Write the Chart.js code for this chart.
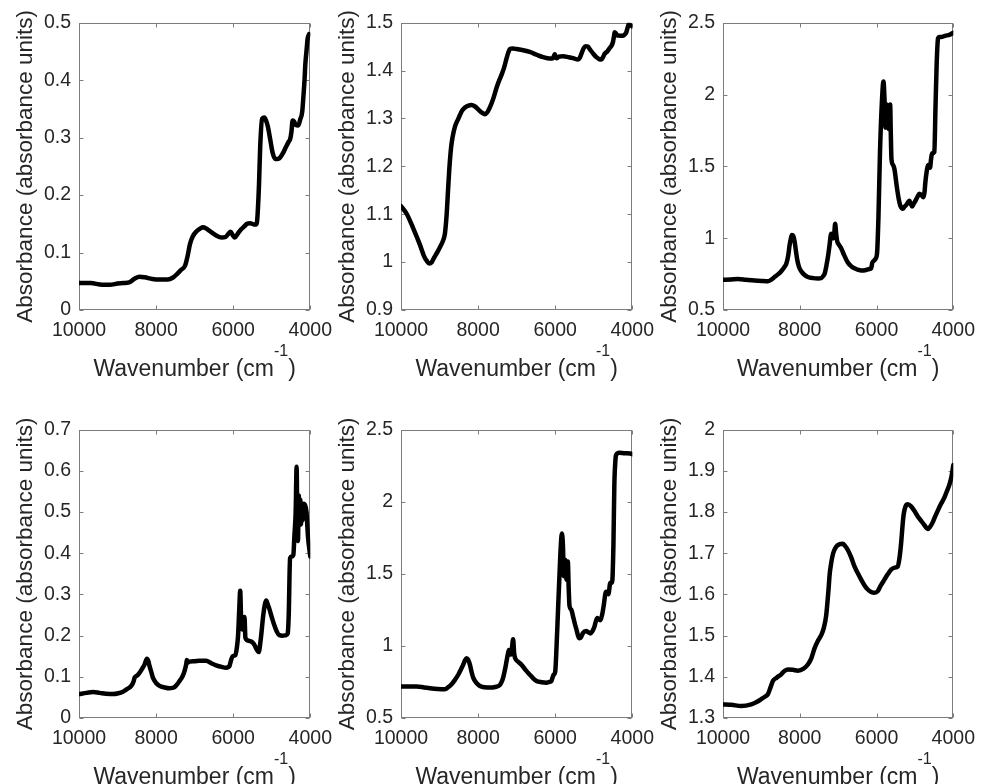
<!DOCTYPE html>
<html>
<head>
<meta charset="utf-8">
<script src="https://cdn.jsdelivr.net/npm/chart.js@4.4.1/dist/chart.umd.min.js"></script>
<style>
  html, body { margin: 0; padding: 0; background: #fff; overflow: hidden; width: 988px; height: 784px; }
  #fig { position: relative; width: 988px; height: 784px; }
  #fig canvas { position: absolute; }
</style>
</head>
<body>
<div id="fig"></div>
<script>
// ---- NIR absorbance spectra, one sample per panel (wavenumber in cm-1) ----
const wnA  = [10000,9700,9400,9200,9000,8850,8700,8550,8430,8300,8100,7900,7700,7550,7450,7350,7250,7180,7120,7050,6950,6850,6790,6700,6600,6450,6300,6200,6120,6070,6010,5960,5880,5800,5720,5640,5560,5470,5400,5380,5363,5330,5300,5250,5190,5140,5100,5040,4975,4906,4850,4800,4717,4629,4560,4520,4490,4458,4420,4380,4311,4260,4210,4181,4150,4130,4100,4070,4044,4030];
const absA = [0.047,0.047,0.044,0.044,0.046,0.047,0.048,0.055,0.058,0.057,0.054,0.053,0.053,0.057,0.063,0.070,0.077,0.095,0.115,0.128,0.137,0.142,0.144,0.142,0.137,0.130,0.126,0.127,0.133,0.136,0.130,0.126,0.133,0.140,0.145,0.150,0.151,0.149,0.149,0.155,0.171,0.220,0.284,0.333,0.335,0.328,0.319,0.297,0.273,0.263,0.263,0.264,0.272,0.284,0.293,0.298,0.310,0.330,0.328,0.322,0.321,0.332,0.345,0.370,0.400,0.427,0.450,0.472,0.478,0.480];

const wnB  = [10000,9853,9680,9508,9400,9335,9266,9200,9163,9050,8990,8900,8860,8817,8780,8748,8700,8662,8600,8515,8420,8342,8250,8170,8080,7997,7900,7824,7760,7695,7600,7522,7450,7393,7330,7263,7220,7177,7100,7004,6800,6659,6480,6314,6141,6055,6030,6012,5990,5968,5900,5796,5650,5537,5407,5360,5321,5260,5209,5150,5105,5020,4932,4860,4803,4760,4717,4650,4587,4540,4501,4470,4458,4430,4397,4320,4242,4200,4156,4120,4095,4050,4000];
const absB = [1.117,1.101,1.070,1.036,1.012,1.003,0.997,1.000,1.006,1.022,1.031,1.047,1.060,1.098,1.150,1.193,1.240,1.261,1.283,1.299,1.316,1.323,1.327,1.328,1.325,1.319,1.312,1.309,1.313,1.323,1.343,1.364,1.380,1.391,1.405,1.425,1.437,1.445,1.446,1.445,1.442,1.439,1.433,1.428,1.425,1.426,1.431,1.434,1.428,1.426,1.429,1.430,1.428,1.426,1.423,1.427,1.435,1.447,1.451,1.450,1.445,1.436,1.428,1.424,1.423,1.428,1.435,1.440,1.447,1.452,1.460,1.474,1.480,1.478,1.474,1.473,1.473,1.475,1.480,1.490,1.497,1.495,1.492];

const wnC  = [10000,9800,9610,9400,9176,8990,8829,8740,8656,8560,8483,8400,8353,8300,8266,8230,8205,8170,8136,8100,8066,8020,7962,7880,7789,7650,7520,7442,7380,7355,7312,7260,7225,7182,7150,7121,7100,7078,7055,7026,6980,6922,6840,6748,6660,6575,6480,6401,6300,6185,6140,6110,6060,6020,5985,5950,5910,5860,5820,5790,5767,5750,5733,5710,5681,5660,5645,5630,5611,5570,5533,5473,5420,5385,5317,5270,5229,5180,5143,5110,5074,5030,4988,4930,4884,4830,4780,4750,4728,4690,4658,4630,4606,4580,4554,4494,4465,4434,4398,4360,4320,4200,4105,4000];
const absC = [0.710,0.712,0.715,0.710,0.705,0.702,0.700,0.712,0.730,0.750,0.770,0.800,0.820,0.880,0.950,1.000,1.022,1.015,0.980,0.910,0.850,0.800,0.770,0.745,0.730,0.722,0.720,0.722,0.740,0.750,0.800,0.880,0.950,1.030,1.020,1.000,1.040,1.100,1.040,0.980,0.955,0.930,0.880,0.830,0.805,0.790,0.780,0.775,0.777,0.785,0.790,0.830,0.845,0.860,0.900,1.150,1.600,1.950,2.090,1.950,1.770,1.800,1.930,1.850,1.760,1.850,1.930,1.750,1.550,1.510,1.480,1.360,1.270,1.230,1.205,1.220,1.230,1.250,1.260,1.240,1.220,1.240,1.260,1.290,1.310,1.300,1.285,1.320,1.390,1.470,1.510,1.500,1.490,1.550,1.590,1.600,1.900,2.210,2.390,2.400,2.400,2.410,2.415,2.430];

const wnD  = [10000,9800,9637,9465,9300,9119,8980,8860,8760,8645,8580,8558,8480,8429,8360,8299,8239,8200,8170,8120,8083,8000,7911,7780,7652,7580,7522,7450,7393,7320,7263,7220,7203,7170,7134,7000,6875,6702,6570,6443,6300,6184,6120,6098,6050,6012,5943,5900,5874,5845,5818,5795,5770,5740,5707,5684,5620,5580,5494,5440,5407,5338,5300,5278,5220,5180,5146,5100,5062,5000,4933,4870,4803,4720,4630,4587,4560,4525,4480,4440,4414,4380,4355,4335,4320,4300,4280,4260,4240,4220,4200,4170,4130,4100,4060,4000];
const absD = [0.058,0.061,0.063,0.061,0.059,0.058,0.060,0.064,0.070,0.078,0.090,0.098,0.104,0.110,0.120,0.130,0.144,0.138,0.126,0.110,0.098,0.085,0.078,0.074,0.072,0.073,0.075,0.082,0.090,0.100,0.114,0.130,0.141,0.135,0.137,0.138,0.139,0.139,0.133,0.128,0.124,0.122,0.124,0.126,0.142,0.150,0.153,0.175,0.200,0.260,0.309,0.240,0.215,0.240,0.245,0.195,0.188,0.187,0.183,0.176,0.169,0.160,0.180,0.197,0.250,0.275,0.285,0.275,0.265,0.245,0.225,0.210,0.201,0.200,0.201,0.205,0.250,0.388,0.392,0.396,0.440,0.500,0.610,0.450,0.430,0.540,0.480,0.530,0.470,0.520,0.480,0.520,0.515,0.500,0.440,0.392];

const wnE  = [10000,9800,9593,9400,9249,9050,8860,8770,8688,8600,8515,8440,8386,8340,8299,8260,8213,8170,8127,8050,7954,7830,7695,7560,7436,7390,7350,7300,7263,7230,7203,7180,7151,7120,7091,7065,7039,6960,6875,6760,6659,6570,6486,6350,6228,6150,6098,6070,6040,6000,5974,5925,5888,5860,5828,5800,5776,5741,5720,5707,5673,5650,5630,5580,5544,5457,5371,5330,5285,5198,5140,5087,5030,4983,4913,4870,4828,4780,4742,4700,4680,4621,4569,4525,4490,4466,4440,4423,4337,4200,4052,4000];
const absE = [0.718,0.718,0.718,0.712,0.707,0.702,0.700,0.715,0.734,0.765,0.800,0.840,0.870,0.900,0.915,0.905,0.870,0.820,0.780,0.745,0.722,0.713,0.711,0.715,0.729,0.750,0.780,0.840,0.893,0.940,0.972,0.965,0.940,0.990,1.047,0.950,0.915,0.890,0.870,0.830,0.800,0.775,0.757,0.748,0.745,0.750,0.757,0.780,0.800,0.820,0.940,1.260,1.500,1.670,1.780,1.700,1.484,1.597,1.520,1.460,1.586,1.400,1.280,1.250,1.212,1.121,1.053,1.060,1.087,1.103,1.095,1.087,1.105,1.133,1.194,1.185,1.178,1.220,1.280,1.360,1.375,1.359,1.439,1.439,1.700,2.119,2.280,2.323,2.340,2.337,2.335,2.330];

const wnF  = [10000,9783,9523,9263,9100,9003,8900,8829,8760,8699,8600,8483,8400,8309,8180,8049,7900,7789,7700,7616,7530,7442,7370,7312,7280,7251,7220,7182,7130,7052,6960,6879,6820,6748,6660,6575,6480,6401,6300,6228,6140,6055,5968,5900,5795,5700,5621,5530,5448,5400,5361,5320,5292,5240,5188,5100,5015,4930,4841,4750,4668,4600,4538,4470,4407,4320,4234,4170,4104,4050,4000];
const absF = [1.333,1.332,1.329,1.333,1.340,1.346,1.352,1.358,1.375,1.390,1.398,1.406,1.414,1.418,1.417,1.415,1.420,1.430,1.445,1.469,1.487,1.501,1.520,1.549,1.580,1.612,1.650,1.676,1.700,1.716,1.722,1.723,1.718,1.708,1.690,1.668,1.650,1.636,1.620,1.612,1.606,1.604,1.608,1.620,1.636,1.650,1.660,1.665,1.668,1.690,1.723,1.770,1.795,1.815,1.819,1.814,1.803,1.790,1.779,1.768,1.759,1.765,1.775,1.790,1.803,1.820,1.835,1.850,1.866,1.885,1.914];

// Axis ranges (min, max, step) for each panel's absorbance axis
const yMins  = [0,   0.9, 0.5, 0,   0.5, 1.3];
const yMaxs  = [0.5, 1.5, 2.5, 0.7, 2.5, 2.0];
const ySteps = [0.1, 0.1, 0.5, 0.1, 0.5, 0.1];
const xTicks = [10000, 8000, 6000, 4000];

const Y_TITLE = 'Absorbance (absorbance units)';
const X_TITLE = ['Wavenumber (cm', '-1', ')'];

const series = [[wnA, absA], [wnB, absB], [wnC, absC], [wnD, absD], [wnE, absE], [wnF, absF]];

// ---- figure layout: plot-area rectangles in page pixels ----
const cols = [[79, 311], [401, 633], [723, 954]];
const rows = [[17, 310], [424, 718]];
const Y_AXIS_W = 79, PAD_TOP = 14, PAD_RIGHT = 30, X_AXIS_H = 74;

const FONT = "'Liberation Sans', Arial, Helvetica, sans-serif";
const INK = '#262626';

// Box around the axes with inward tick marks on all four sides (drawn under the curve)
const framePlugin = {
  id: 'frame',
  beforeDatasetsDraw(chart) {
    const { ctx, chartArea: a, scales: { x, y } } = chart;
    const L = Math.round(a.left) + 0.5, R = Math.round(a.right) - 0.5;
    const T = Math.round(a.top) + 0.5, B = Math.round(a.bottom) - 0.5;
    const tl = 4;
    ctx.save();
    ctx.strokeStyle = '#7c7c7c';
    ctx.lineWidth = 1;
    ctx.strokeRect(L, T, R - L, B - T);
    ctx.beginPath();
    x.ticks.forEach(t => {
      const px = Math.round(x.getPixelForValue(t.value)) + 0.5;
      ctx.moveTo(px, B); ctx.lineTo(px, B - tl);
      ctx.moveTo(px, T); ctx.lineTo(px, T + tl);
    });
    y.ticks.forEach(t => {
      const py = Math.round(y.getPixelForValue(t.value)) + 0.5;
      ctx.moveTo(L, py); ctx.lineTo(L + tl, py);
      ctx.moveTo(R, py); ctx.lineTo(R - tl, py);
    });
    ctx.stroke();
    ctx.restore();
  }
};

// x-axis title with a superscript exponent
const xTitlePlugin = {
  id: 'xTitle',
  afterDraw(chart) {
    const { ctx, chartArea: a } = chart;
    const cx = (a.left + a.right) / 2, base = a.bottom + 66;
    const mainFont = `23px ${FONT}`, supFont = `16px ${FONT}`;
    ctx.save();
    ctx.fillStyle = INK;
    ctx.textAlign = 'left';
    ctx.textBaseline = 'alphabetic';
    ctx.font = mainFont;
    const w1 = ctx.measureText(X_TITLE[0]).width, w3 = ctx.measureText(X_TITLE[2]).width;
    ctx.font = supFont;
    const w2 = ctx.measureText(X_TITLE[1]).width;
    const x0 = cx - (w1 + w2 + w3) / 2;
    ctx.font = mainFont; ctx.fillText(X_TITLE[0], x0, base);
    ctx.font = supFont;  ctx.fillText(X_TITLE[1], x0 + w1, base - 20);
    ctx.font = mainFont; ctx.fillText(X_TITLE[2], x0 + w1 + w2, base);
    ctx.restore();
  }
};

const fmt = v => String(+Number(v).toFixed(2));
const fig = document.getElementById('fig');

series.forEach(([wn, ab], i) => {
  const [L, R] = cols[i % 3];
  const [T, B] = rows[Math.floor(i / 3)];
  const canvas = document.createElement('canvas');
  canvas.width = Y_AXIS_W + (R - L) + PAD_RIGHT;
  canvas.height = PAD_TOP + (B - T) + X_AXIS_H;
  canvas.style.left = (L - Y_AXIS_W) + 'px';
  canvas.style.top = (T - PAD_TOP) + 'px';
  fig.appendChild(canvas);

  new Chart(canvas, {
    type: 'line',
    data: {
      datasets: [{
        data: wn.map((w, k) => ({ x: w, y: ab[k] })),
        borderColor: '#000',
        borderWidth: 4.5,
        pointRadius: 0,
        fill: false,
        cubicInterpolationMode: 'monotone',
        borderJoinStyle: 'round',
        borderCapStyle: 'round'
      }]
    },
    options: {
      responsive: false,
      animation: false,
      devicePixelRatio: 1,
      events: [],
      layout: { padding: { top: PAD_TOP, right: PAD_RIGHT, left: 0, bottom: 0 } },
      plugins: { legend: { display: false }, tooltip: { enabled: false } },
      scales: {
        x: {
          type: 'linear',
          reverse: true,
          min: 4000,
          max: 10000,
          afterBuildTicks: s => { s.ticks = xTicks.map(v => ({ value: v })); },
          ticks: { callback: v => String(v), color: INK, font: { family: FONT, size: 19.5 }, padding: 9, maxRotation: 0, autoSkip: false },
          grid: { display: false, drawTicks: false },
          border: { display: false },
          afterFit: s => { s.height = X_AXIS_H; }
        },
        y: {
          type: 'linear',
          min: yMins[i],
          max: yMaxs[i],
          ticks: { stepSize: ySteps[i], callback: fmt, color: INK, font: { family: FONT, size: 19.5 }, padding: 8 },
          grid: { display: false, drawTicks: false },
          border: { display: false },
          title: { display: true, text: Y_TITLE, color: INK, font: { family: FONT, size: 22.5 }, padding: { top: 12, bottom: 0 } },
          afterFit: s => { s.width = Y_AXIS_W; }
        }
      }
    },
    plugins: [framePlugin, xTitlePlugin]
  });
});
</script>
</body>
</html>
